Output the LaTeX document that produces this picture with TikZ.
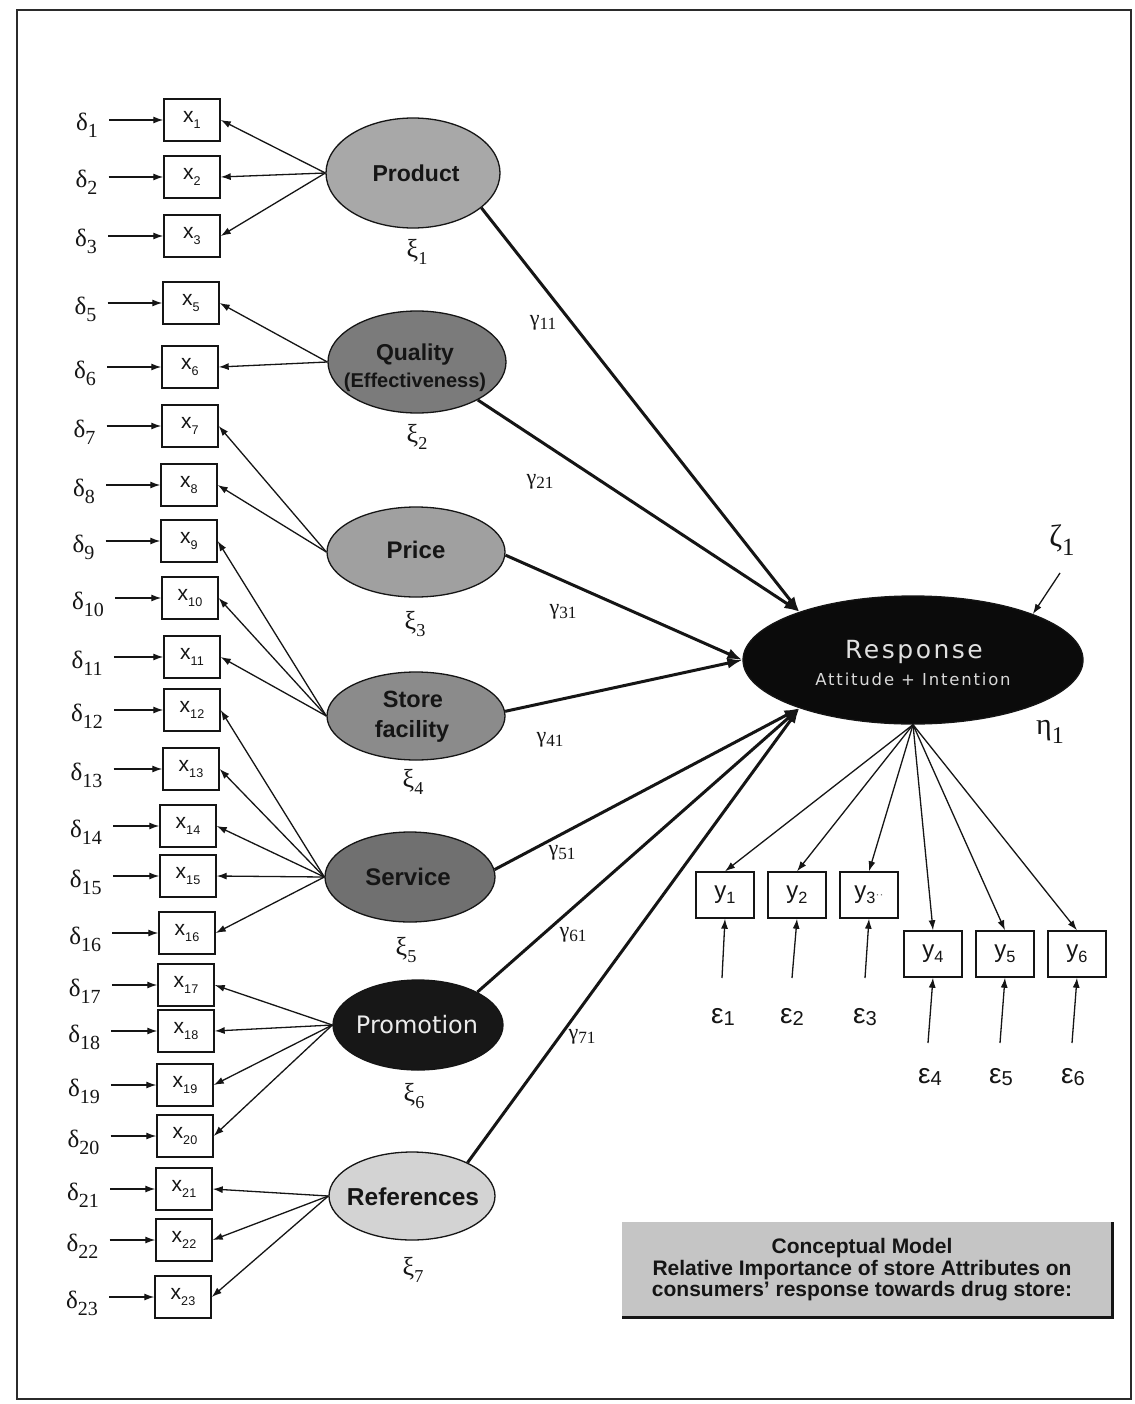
\documentclass[tikz,border=0pt]{standalone}
\usepackage{fontspec}
\setmainfont{Liberation Serif}
\setsansfont{Liberation Sans}
\newfontfamily\dvsans{DejaVu Sans}
\newfontfamily\respfont{DejaVu Sans}[LetterSpace=10]
\newfontfamily\attfont{DejaVu Sans}[LetterSpace=11]
\usepackage{graphicx}
\usetikzlibrary{arrows.meta,shapes.geometric}

% lowered, reduced subscripts for the various label kinds
\newcommand\dsub[1]{\raisebox{-0.28em}{\scalebox{0.8}{#1}}}
\newcommand\xsub[1]{\raisebox{-0.3em}{\scalebox{0.6}{#1}}}
\newcommand\ysub[1]{\raisebox{-0.2em}{\scalebox{0.68}{#1}}}
\newcommand\gsub[1]{\raisebox{-0.18em}{\scalebox{0.78}{#1}}}
\newcommand\ksub[1]{\raisebox{-0.3em}{\scalebox{0.7}{#1}}}
\newcommand\esub[1]{\raisebox{-0.08em}{\scalebox{0.72}{#1}}}

\definecolor{frameC}{HTML}{2B2B2B}
\definecolor{inkC}{HTML}{151515}
\definecolor{prodC}{HTML}{A8A8A8}
\definecolor{qualC}{HTML}{7B7B7B}
\definecolor{priceC}{HTML}{A0A0A0}
\definecolor{storeC}{HTML}{8B8B8B}
\definecolor{servC}{HTML}{707070}
\definecolor{promC}{HTML}{171717}
\definecolor{refC}{HTML}{D3D3D3}
\definecolor{respC}{HTML}{0B0B0B}
\definecolor{capC}{HTML}{C5C5C5}

\tikzset{
  xbox/.style={draw=inkC, line width=1.4pt, minimum width=56pt, minimum height=42pt,
    inner sep=0pt, text=inkC, font=\sffamily\fontsize{21}{21}\selectfont},
  ybox/.style={draw=inkC, line width=1.4pt, minimum width=58pt, minimum height=46pt,
    inner sep=0pt, text=inkC, font=\sffamily\fontsize{24}{24}\selectfont},
  latent/.style={ellipse, draw=inkC, line width=1.3pt, inner sep=0pt},
  lattxt/.style={anchor=base, inner sep=0pt, text=inkC,
    font=\sffamily\bfseries\fontsize{#1}{#1}\selectfont},
  dlab/.style={anchor=base west, inner sep=0pt, text=inkC, font=\fontsize{25}{25}\selectfont},
  xilab/.style={inner sep=0pt, text=inkC, font=\fontsize{26}{26}\selectfont},
  glab/.style={inner sep=0pt, text=inkC, font=\fontsize{22}{22}\selectfont},
  elab/.style={inner sep=0pt, text=inkC, font=\sffamily\fontsize{28}{28}\selectfont},
  thinarr/.style={draw=inkC, line width=1.3pt, -{Latex[length=10pt,width=7pt]}},
  patharr/.style={draw=inkC, line width=3pt, -{Latex[length=15pt,width=11pt]}},
  captxt/.style={anchor=base, inner sep=0pt, text=inkC,
    font=\sffamily\bfseries\fontsize{21}{21}\selectfont},
}

\begin{document}
\begin{tikzpicture}[x=1pt,y=-1pt]
\useasboundingbox (0,0) rectangle (1134,1404);
\fill[white] (0,0) rectangle (1134,1404);
\draw[frameC, line width=2pt] (17,10) rectangle (1131,1399);

% exogenous latent variables
\node[latent, fill=prodC,  minimum width=174pt, minimum height=110pt] (Product)    at (413,173)  {};
\node[latent, fill=qualC,  minimum width=178pt, minimum height=102pt] (Quality)    at (417,362)  {};
\node[latent, fill=priceC, minimum width=178pt, minimum height=90pt]  (Price)      at (416,552)  {};
\node[latent, fill=storeC, minimum width=178pt, minimum height=88pt]  (Store)      at (416,716)  {};
\node[latent, fill=servC,  minimum width=170pt, minimum height=90pt]  (Service)    at (410,877)  {};
\node[latent, fill=promC,  minimum width=170pt, minimum height=90pt]  (Promotion)  at (418,1025) {};
\node[latent, fill=refC,   minimum width=166pt, minimum height=88pt]  (References) at (412,1196) {};
% endogenous latent variable
\node[latent, fill=respC,  minimum width=340pt, minimum height=128pt] (Response)   at (913,660)  {};

\node[lattxt=23]   (Product-t)    at (416,182)  {Product};
\node[lattxt=23]   (Quality-t)    at (415,360)  {Quality};
\node[lattxt=20]   (Quality-t2)   at (415,387)  {(Effectiveness)};
\node[lattxt=24]   (Price-t)      at (416,558)  {Price};
\node[lattxt=23.5] (Store-t)      at (413,707)  {Store};
\node[lattxt=23.5] (Store-t2)     at (412,737)  {facility};
\node[lattxt=24]   (Service-t)    at (408,885)  {Service};
\node[anchor=base, inner sep=0pt, text=white!92!black,
      font=\dvsans\fontsize{24}{24}\selectfont] (Promotion-t) at (417,1033) {Promotion};
\node[lattxt=24.5] (References-t) at (413,1205) {References};
\node[anchor=base, inner sep=0pt, text=white!88!black,
      font=\respfont\fontsize{25}{25}\selectfont] (Response-t) at (914,658) {Response};
\node[anchor=base, inner sep=0pt, text=white!85!black,
      font=\attfont\fontsize{16.5}{16.5}\selectfont] (Response-t2) at (913,685) {Attitude + Intention};

% xi labels
\node[xilab] (xi1) at (417,252)  {ξ\ksub{1}};
\node[xilab] (xi2) at (417,437)  {ξ\ksub{2}};
\node[xilab] (xi3) at (415,624)  {ξ\ksub{3}};
\node[xilab] (xi4) at (413,782)  {ξ\ksub{4}};
\node[xilab] (xi5) at (406,950)  {ξ\ksub{5}};
\node[xilab] (xi6) at (414,1096) {ξ\ksub{6}};
\node[xilab] (xi7) at (413,1270) {ξ\ksub{7}};

% indicators x with their error terms delta
\foreach \i/\yc/\xc in {1/120/192, 2/177/192, 3/236/192, 5/303/191, 6/367/190,
    7/426/190, 8/485/189, 9/541/189, 10/598/190, 11/657/192, 12/710/192,
    13/769/191, 14/826/188, 15/876/188, 16/933/187, 17/985/186, 18/1031/186,
    19/1085/185, 20/1136/185, 21/1189/184, 22/1240/184, 23/1297/183} {
  \node[xbox] (x\i) at (\xc,\yc) {x\xsub{\i}};
  \pgfmathsetmacro\dx{76-10*(\yc-120)/1177}
  \node[dlab] (d\i) at (\dx,\yc+11) {δ\dsub{\i}};
  \draw[thinarr, shorten <=11pt] (d\i.east |- x\i.west) -- (x\i.west);
}

% loadings
\foreach \s/\t in {Product/1, Product/2, Product/3, Quality/5, Quality/6,
    Price/7, Price/8, Store/9, Store/10, Store/11,
    Service/12, Service/13, Service/14, Service/15, Service/16,
    Promotion/17, Promotion/18, Promotion/19, Promotion/20,
    References/21, References/22, References/23}
  \draw[thinarr] (\s.west) -- (x\t.east);

% structural paths
\draw[patharr] (Product.-27)    -- (Response.157);
\draw[patharr] (Quality.-32)    -- (Response.157);
\draw[patharr] (Price.-2)       -- (Response.west);
\draw[patharr] (Store.3)        -- (Response.west);
\draw[patharr] (Service.5)      -- (Response.203);
\draw[patharr] (Promotion.29)   -- (Response.203);
\draw[patharr] (References.31)  -- (Response.203);

\node[glab] (g11) at (543,323)  {γ\gsub{11}};
\node[glab] (g21) at (540,482)  {γ\gsub{21}};
\node[glab] (g31) at (563,612)  {γ\gsub{31}};
\node[glab] (g41) at (550,740)  {γ\gsub{41}};
\node[glab] (g51) at (562,853)  {γ\gsub{51}};
\node[glab] (g61) at (573,935)  {γ\gsub{61}};
\node[glab] (g71) at (582,1037) {γ\gsub{71}};

% disturbance and label of the endogenous variable
\node[inner sep=0pt, text=inkC, font=\fontsize{31}{31}\selectfont] (zeta) at (1062,540) {ζ\dsub{1}};
\coordinate (zt) at (1060,573);
\draw[thinarr] (zt) -- (Response.21);
\node[inner sep=0pt, text=inkC, font=\fontsize{30}{30}\selectfont] (eta) at (1050,732) {η\dsub{1}};

% indicators y with their error terms epsilon
\node[ybox] (y1) at (725,895) {y\ysub{1}};
\node[ybox] (y2) at (797,895) {y\ysub{2}};
\node[ybox] (y3) at (869,895) {y\ysub{3}{\color{black!55}\fontsize{12}{12}\selectfont ··}};
\node[ybox] (y4) at (933,954) {y\ysub{4}};
\node[ybox] (y5) at (1005,954) {y\ysub{5}};
\node[ybox] (y6) at (1077,954) {y\ysub{6}};
\foreach \j in {1,...,6}
  \draw[thinarr] (Response.south) -- (y\j.north);

\foreach \j/\ex/\ey/\tx/\ty in {1/723/1017/722/978, 2/792/1017/792/978, 3/865/1017/865/978,
    4/930/1077/928/1043, 5/1001/1077/1000/1043, 6/1073/1077/1072/1043} {
  \node[elab] (e\j) at (\ex,\ey) {ε\esub{\j}};
  \coordinate (et\j) at (\tx,\ty);
  \draw[thinarr] (et\j) -- (y\j.south);
}

% caption panel
\node[fill=capC, minimum width=490pt, minimum height=95pt, inner sep=0pt, anchor=north west]
  (capbox) at (622,1222) {};
\draw[inkC, line width=3pt] (capbox.south west) -- (capbox.south east) -- (capbox.north east);
\node[captxt] (cap1) at (862,1253) {Conceptual Model};
\node[captxt] (cap2) at (862,1275) {Relative Importance of store Attributes on};
\node[captxt] (cap3) at (862,1296) {consumers' response towards drug store:};
\end{tikzpicture}
\end{document}
